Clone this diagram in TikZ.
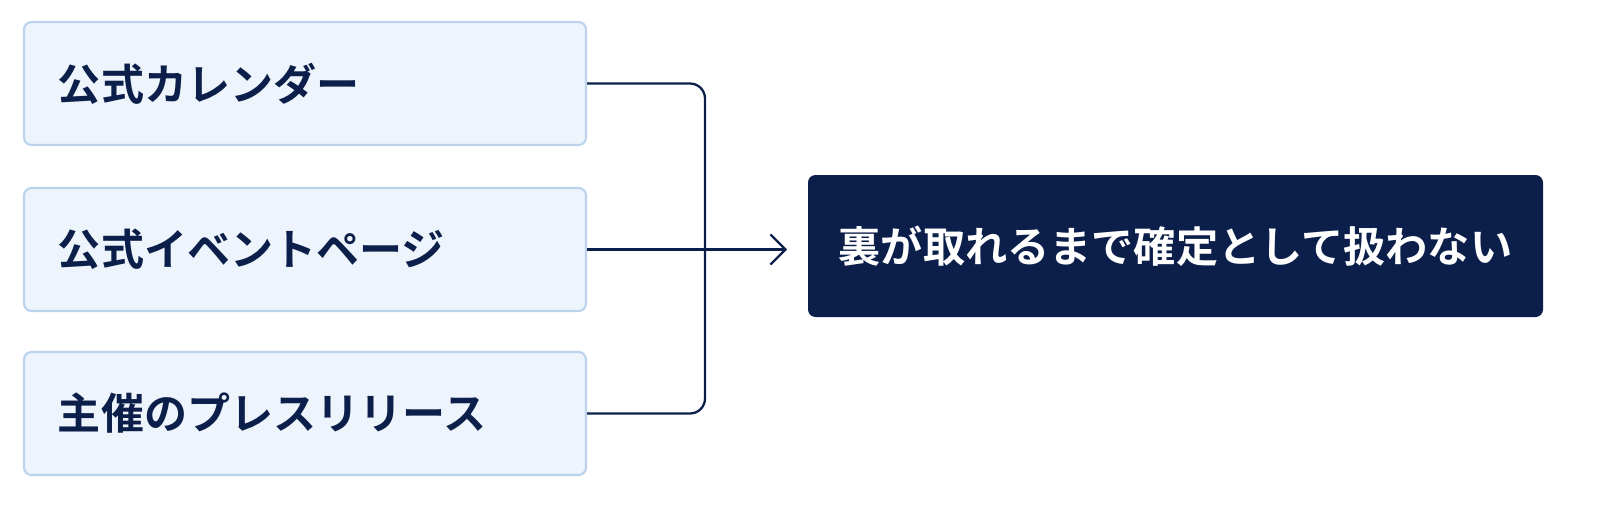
\documentclass[tikz,border=0pt]{standalone}
\usepackage{fontspec}
\newfontfamily\cjk{Noto Sans CJK JP Bold}
\usetikzlibrary{positioning, arrows.meta}
\definecolor{navy}{HTML}{0B1F4A}
\definecolor{paleblue}{HTML}{EEF4FB}
\definecolor{edgeblue}{HTML}{BCD3EE}
\tikzset{
    source/.style={draw=edgeblue, fill=paleblue, line width=1.2pt, rounded corners=1.5mm,
        minimum width=11.24cm, minimum height=2.46cm, inner xsep=0.68cm, text width=9.88cm, align=left,
        font=\cjk\fontsize{24.5}{28}\selectfont, text=navy},
    rule/.style={fill=navy, rounded corners=1.5mm, minimum width=14.7cm, minimum height=2.84cm,
        font=\cjk\fontsize{24}{28}\selectfont, text=white},
    link/.style={draw=navy, line width=1.3pt, rounded corners=3mm},
    arrow/.style={draw=navy, line width=1.3pt, -{Straight Barb[length=3mm, width=6mm]}}
}
\begin{document}
\begin{tikzpicture}
    \useasboundingbox (0,0) rectangle (32,10.18);
    \node[source] (calendar) at (6.1, 8.51) {公式カレンダー};
    \node[source] (eventpage) at (6.1, 5.19) {公式イベントページ};
    \node[source] (press) at (6.1, 1.91) {主催のプレスリリース};
    \node[rule] (confirm) at (23.51, 5.26) {裏が取れるまで確定として扱わない};

    \coordinate (tip) at (15.74, 5.19);
    \draw[link] (calendar.east) -| (14.1, 5.19) |- (press.east);
    \draw[arrow] (eventpage.east) -- (tip);
\end{tikzpicture}
\end{document}
